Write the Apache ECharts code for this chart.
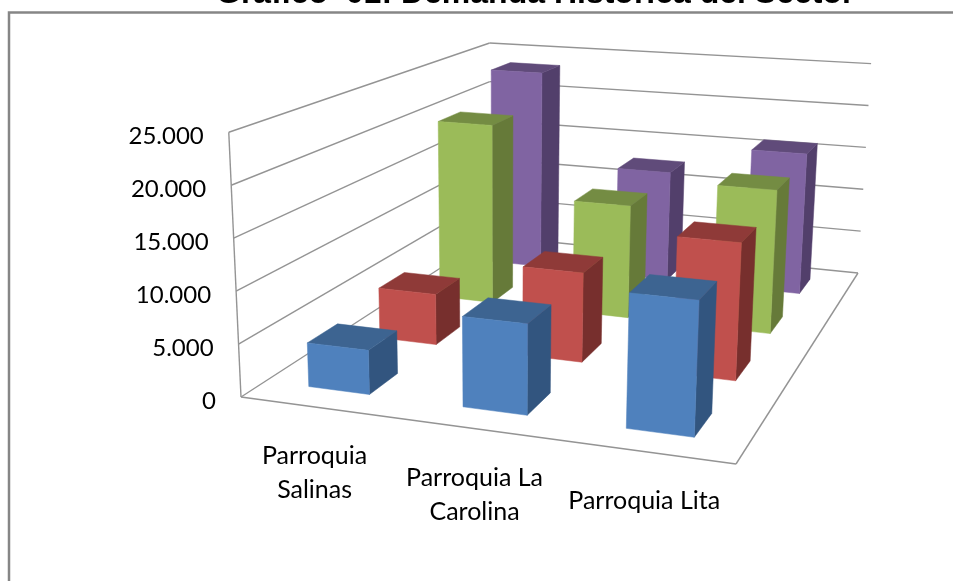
<!DOCTYPE html>
<html>
<head>
<meta charset="utf-8">
<style>
  html, body { margin: 0; padding: 0; background: #fff; overflow: hidden; }
  #main { width: 953px; height: 581px; }
</style>
<script src="https://cdn.jsdelivr.net/npm/echarts@6/dist/echarts.min.js"></script>
</head>
<body>
<div id="main"></div>
<script>
// data
const categories = ['Parroquia\nSalinas', 'Parroquia La\nCarolina', 'Parroquia Lita'];
const tickValues = [0, 5000, 10000, 15000, 20000, 25000];
const tickLabels = ['0', '5.000', '10.000', '15.000', '20.000', '25.000'];
const blueValues = [4200, 8450, 12300];
const redValues = [5200, 9000, 13550];
const greenValues = [19900, 12200, 15250];
const purpleValues = [23400, 12600, 16000];

// palette per row: front, side, top
const rowColors = [
  ['#4f81bd', '#32557f', '#3d6491'],
  ['#c0504d', '#772f2d', '#8f3a38'],
  ['#9bbb59', '#667a39', '#748c43'],
  ['#8064a2', '#523f6b', '#604b7a']
];

// the floor of the 3d scene on screen: FL, FR, BR, BL
const floorQuad = [[241, 397], [736, 464], [858, 273], [490, 236]];
const frontHeight = 265;
const verticalVanish = [500, 6000];
const barShare = 0.4;
const barShift = -0.004;

function quadMap(q) {
  const [p0, p1, p2, p3] = q;
  const dx1 = p1[0] - p2[0], dx2 = p3[0] - p2[0], sx = p0[0] - p1[0] + p2[0] - p3[0];
  const dy1 = p1[1] - p2[1], dy2 = p3[1] - p2[1], sy = p0[1] - p1[1] + p2[1] - p3[1];
  const den = dx1 * dy2 - dx2 * dy1;
  const g = (sx * dy2 - dx2 * sy) / den;
  const h = (dx1 * sy - sx * dy1) / den;
  const a = p1[0] - p0[0] + g * p1[0], b = p3[0] - p0[0] + h * p3[0];
  const d = p1[1] - p0[1] + g * p1[1], e = p3[1] - p0[1] + h * p3[1];
  return (u, v) => {
    const w = g * u + h * v + 1;
    return [(a * u + b * v + p0[0]) / w, (d * u + e * v + p0[1]) / w, w];
  };
}
const floorAt = quadMap(floorQuad);
function project(u, v, h) {
  const f = floorAt(u, v);
  const dx = f[0] - verticalVanish[0], dy = f[1] - verticalVanish[1];
  const len = Math.sqrt(dx * dx + dy * dy);
  const px = h * frontHeight / f[2] * (1 + 0.02 * u * v);
  return [f[0] + dx / len * px, f[1] + dy / len * px];
}
// height share of a value, taken from the value axis
function heightShare(api, value) {
  const y0 = api.coord([0, 0])[1], yTop = api.coord([0, 25000])[1];
  return (y0 - api.coord([0, value])[1]) / (y0 - yTop);
}
function poly(points, fill) {
  return { type: 'polygon', shape: { points }, style: { fill, stroke: fill, lineWidth: 0.5 } };
}
function line(a, b) {
  return { type: 'line', shape: { x1: a[0], y1: a[1], x2: b[0], y2: b[1] }, style: { stroke: '#949494', lineWidth: 1.4 } };
}

function renderBar(row) {
  return function (params, api) {
    const rect = params.coordSys;
    const uMid = (api.coord([api.value(0), 0])[0] - rect.x) / rect.width + barShift;
    const h = heightShare(api, api.value(1));
    const du = barShare / categories.length / 2;
    const dv = barShare / rowColors.length / 2;
    const vMid = (row + 0.5) / rowColors.length;
    const u0 = uMid - du, u1 = uMid + du, v0 = vMid - dv, v1 = vMid + dv;
    const c = rowColors[row];
    return {
      type: 'group',
      children: [
        poly([project(u1, v0, 0), project(u1, v1, 0), project(u1, v1, h), project(u1, v0, h)], c[1]),
        poly([project(u0, v0, h), project(u1, v0, h), project(u1, v1, h), project(u0, v1, h)], c[2]),
        poly([project(u0, v0, 0), project(u1, v0, 0), project(u1, v0, h), project(u0, v0, h)], c[0])
      ]
    };
  };
}

function renderWall(params, api) {
  const value = tickValues[params.dataIndex];
  const h = heightShare(api, value);
  const a = project(0, 0, h), b = project(0, 1, h), c = project(1, 1, h);
  const children = [line(a, b), line(b, c)];
  if (params.dataIndex === 0) {
    children.push(line(project(0, 0, 0), project(1, 0, 0)), line(project(1, 0, 0), project(1, 1, 0)));
    children.push(line(project(0, 0, 0), project(0, 0, 1)));
  }
  children.push({
    type: 'text',
    style: {
      text: tickLabels[params.dataIndex], x: a[0] - 25, y: a[1] + 4,
      align: 'right', verticalAlign: 'middle',
      font: '24px Lato', fill: '#000'
    }
  });
  return { type: 'group', children };
}

function renderCategoryLabel(params, api) {
  const rect = params.coordSys;
  const u = (api.coord([params.dataIndex, 0])[0] - rect.x) / rect.width;
  const p = project(u, 0, 0);
  return {
    type: 'text',
    style: {
      text: categories[params.dataIndex], x: p[0] - 3, y: p[1] + 32,
      align: 'center', verticalAlign: 'top', lineHeight: 34,
      font: '25px Lato', fill: '#000'
    }
  };
}

const barSeries = [blueValues, redValues, greenValues, purpleValues].map((values, row) => ({
  type: 'custom',
  name: 'Serie ' + (row + 1),
  renderItem: renderBar(row),
  encode: { x: 0, y: 1 },
  z: 10 - row,
  silent: true,
  data: values.map((v, i) => [i, v])
}));

const chart = echarts.init(document.getElementById('main'), null, { renderer: 'canvas' });
chart.setOption({
  animation: false,
  title: {
    text: 'Gráfico  01: Demanda Histórica del Sector',
    left: 211, top: -27,
    textStyle: { fontFamily: 'Liberation Sans', fontWeight: 'bold', fontSize: 32, color: '#000' }
  },
  grid: { left: 241, top: 132, width: 495, height: 265 },
  xAxis: { type: 'category', data: categories, show: false },
  yAxis: { type: 'value', min: 0, max: 25000, interval: 5000, show: false },
  graphic: [{
    type: 'polyline',
    shape: { points: [[9, 590], [9, 12.5], [960, 12.5]] },
    style: { stroke: '#868686', lineWidth: 2.5, fill: null },
    silent: true
  }],
  series: [{
    type: 'custom',
    renderItem: renderWall,
    encode: { x: 0, y: 1 },
    z: 1,
    silent: true,
    data: tickValues.map(v => [0, v])
  }, {
    type: 'custom',
    renderItem: renderCategoryLabel,
    encode: { x: 0, y: 1 },
    z: 1,
    silent: true,
    data: categories.map((c, i) => [i, 0])
  }].concat(barSeries)
});
</script>
</body>
</html>
